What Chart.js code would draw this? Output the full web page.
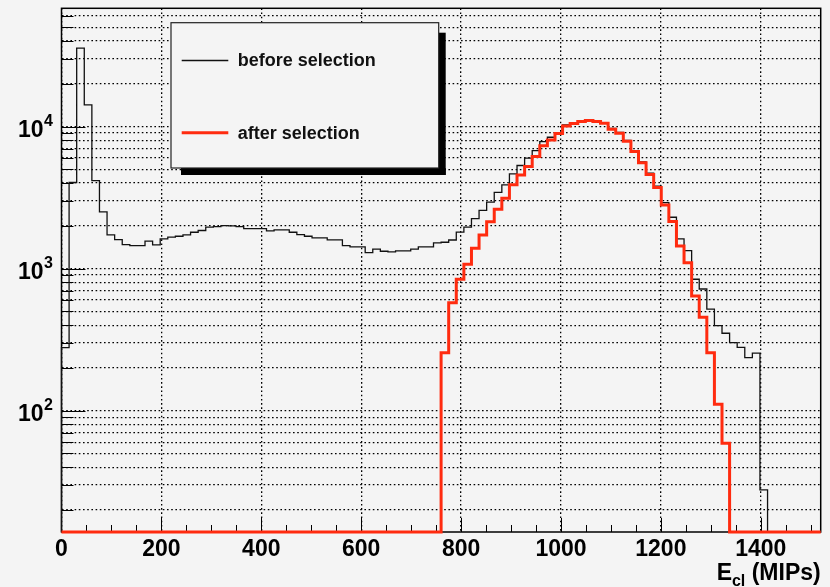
<!DOCTYPE html>
<html>
<head>
<meta charset="utf-8">
<script src="https://cdn.jsdelivr.net/npm/chart.js@4.4.1/dist/chart.umd.min.js"></script>
<style>
  html, body { margin: 0; padding: 0; background: #f4f4f4; }
  #wrap { width: 830px; height: 587px; }
</style>
</head>
<body>
<div id="wrap"><canvas id="hist" width="830" height="587"></canvas></div>
<script>
// 100 bins from 0 to 1520 MIPs
const X_MIN = 0;
const X_MAX = 1520;
const N_BINS = 100;

const Y_MIN = 14;
const Y_MAX = 68000;

// bin contents, 0 = empty bin
const beforeSelection = [
  278, 4040, 35700, 14200, 4160, 2510, 1730, 1600, 1475, 1450,
  1450, 1560, 1468, 1620, 1664, 1690, 1727, 1804, 1855, 1958,
  1976, 2008, 2000, 1975, 1910, 1914, 1914, 1843, 1873, 1873,
  1804, 1735, 1690, 1645, 1645, 1594, 1594, 1452, 1421, 1421,
  1296, 1370, 1325, 1310, 1333, 1333, 1370, 1421, 1421, 1517,
  1533, 1590, 1810, 1960, 2250, 2575, 2940, 3440, 3890, 4640,
  5320, 6000, 6780, 7840, 8410, 9070, 10280, 10670, 10970, 11150,
  10970, 10670, 9700, 9100, 8000, 6780, 5650, 4700, 3800, 2918,
  2300, 1618, 1339, 842, 719, 518, 397, 351, 301, 279,
  236, 254, 27.7, 0, 0, 0, 0, 0, 0, 0
];
const afterSelection = [
  0, 0, 0, 0, 0, 0, 0, 0, 0, 0,
  0, 0, 0, 0, 0, 0, 0, 0, 0, 0,
  0, 0, 0, 0, 0, 0, 0, 0, 0, 0,
  0, 0, 0, 0, 0, 0, 0, 0, 0, 0,
  0, 0, 0, 0, 0, 0, 0, 0, 0, 0,
  256, 576, 842, 1073, 1392, 1727, 2140, 2620, 3130, 3890,
  4570, 5240, 6160, 7340, 8060, 8930, 10100, 10500, 10840, 11020,
  10840, 10560, 9590, 8990, 7880, 6670, 5570, 4600, 3720, 2810,
  2143, 1445, 1102, 643, 455, 256, 111, 58.9, 0, 0,
  0, 0, 0, 0, 0, 0, 0, 0, 0, 0
];

const xMajorTicks = [0, 200, 400, 600, 800, 1000, 1200, 1400];
const xMinorStep = 50;
const yDecades = [100, 1000, 10000];
const yDecadeExp = ['2', '3', '4'];
const seriesLabels = ['before selection', 'after selection'];
const xTitle = ['E', 'cl', ' (MIPs)'];

const FONT = '"Liberation Sans", Arial, Helvetica, sans-serif';

// log grid at 2..9 x 10^n plus the decades
const yGridValues = [];
for (let p = 10; p < Y_MAX; p *= 10) {
  for (let m = 1; m <= 9; m++) {
    const v = m * p;
    if (v > Y_MIN && v < Y_MAX) yGridValues.push(v);
  }
}

// bin contents -> step points, empty bins sit on the bottom of the frame
function histPoints(counts) {
  const w = (X_MAX - X_MIN) / N_BINS;
  const pts = [{ x: X_MIN, y: Y_MIN }];
  counts.forEach((c, i) => pts.push({ x: X_MIN + i * w, y: c > 0 ? c : Y_MIN }));
  pts.push({ x: X_MAX, y: Y_MIN });
  return pts;
}

const rootLook = {
  id: 'rootLook',
  beforeDraw(chart) {
    const ctx = chart.ctx;
    ctx.save();
    ctx.fillStyle = '#f4f4f4';
    ctx.fillRect(0, 0, chart.width, chart.height);
    ctx.restore();
  },
  beforeDatasetsDraw(chart) {
    const { ctx, chartArea: a, scales: { x, y } } = chart;
    ctx.save();
    ctx.strokeStyle = '#000';
    ctx.lineWidth = 1;
    ctx.beginPath();
    for (let v = X_MIN + xMinorStep; v < X_MAX; v += xMinorStep) {
      const px = Math.round(x.getPixelForValue(v)) + 0.5;
      const len = xMajorTicks.includes(v) ? 14 : 7;
      ctx.moveTo(px, a.bottom);
      ctx.lineTo(px, a.bottom - len);
    }
    yGridValues.forEach(v => {
      const py = Math.round(y.getPixelForValue(v)) + 0.5;
      const len = yDecades.includes(v) ? 24 : 12;
      ctx.moveTo(a.left, py);
      ctx.lineTo(a.left + len, py);
    });
    ctx.stroke();
    ctx.lineWidth = 1.5;
    ctx.strokeRect(a.left, a.top, a.right - a.left, a.bottom - a.top);
    ctx.restore();
  },
  afterDraw(chart) {
    const { ctx, chartArea: a, scales: { x, y } } = chart;
    ctx.save();
    ctx.fillStyle = '#000';

    // x tick labels
    ctx.font = 'bold 23px ' + FONT;
    ctx.textAlign = 'center';
    ctx.textBaseline = 'alphabetic';
    xMajorTicks.forEach(v => ctx.fillText(String(v), x.getPixelForValue(v), 556));

    // y tick labels 10^n
    ctx.textAlign = 'right';
    yDecades.forEach((v, i) => {
      const py = y.getPixelForValue(v);
      const right = a.left - 8.5;
      ctx.font = 'bold 16px ' + FONT;
      const supW = ctx.measureText(yDecadeExp[i]).width;
      ctx.fillText(yDecadeExp[i], right, py - 1);
      ctx.font = 'bold 23px ' + FONT;
      ctx.fillText('10', right - supW - 0.5, py + 10);
    });

    // axis title E_cl (MIPs), right aligned to the frame
    let tx = a.right;
    ctx.font = 'bold 23px ' + FONT;
    ctx.fillText(xTitle[2], tx, 580);
    tx -= ctx.measureText(xTitle[2]).width;
    ctx.font = 'bold 16px ' + FONT;
    ctx.fillText(xTitle[1], tx, 586);
    tx -= ctx.measureText(xTitle[1]).width;
    ctx.font = 'bold 23px ' + FONT;
    ctx.fillText(xTitle[0], tx, 580);

    // legend box with shadow
    const bx = 171, by = 22.7, bw = 267.7, bh = 145.3, sh = 7;
    ctx.fillStyle = '#000';
    ctx.fillRect(bx + bw, by + 10, sh, bh - 10 + sh);
    ctx.fillRect(bx + 10, by + bh, bw - 10 + sh, sh);
    ctx.fillStyle = '#f4f4f4';
    ctx.fillRect(bx, by, bw, bh);
    ctx.strokeStyle = '#222';
    ctx.lineWidth = 1.2;
    ctx.strokeRect(bx, by, bw, bh);

    const rows = [60.5, 132.8];
    chart.data.datasets.forEach((ds, i) => {
      ctx.strokeStyle = ds.borderColor;
      ctx.lineWidth = ds.borderWidth;
      ctx.beginPath();
      ctx.moveTo(181.7, rows[i]);
      ctx.lineTo(228.3, rows[i]);
      ctx.stroke();
      ctx.fillStyle = '#111';
      ctx.font = 'bold 18px ' + FONT;
      ctx.textAlign = 'left';
      ctx.textBaseline = 'middle';
      ctx.fillText(ds.label, 237.7, rows[i] + 0.8);
    });
    ctx.restore();
  }
};

new Chart(document.getElementById('hist'), {
  type: 'line',
  data: {
    datasets: [
      {
        label: seriesLabels[0],
        data: histPoints(beforeSelection),
        borderColor: '#111111',
        borderWidth: 1.3,
        stepped: true,
        pointRadius: 0,
        fill: false,
        order: 1,
        clip: false
      },
      {
        label: seriesLabels[1],
        data: histPoints(afterSelection),
        borderColor: '#ff2b0f',
        borderWidth: 3,
        stepped: true,
        pointRadius: 0,
        fill: false,
        order: 0,
        clip: false
      }
    ]
  },
  options: {
    responsive: false,
    animation: false,
    events: [],
    layout: { padding: { left: 61.5, top: 8.3, right: 9.3, bottom: 55 } },
    plugins: { legend: { display: false }, tooltip: { enabled: false } },
    scales: {
      x: {
        type: 'linear',
        min: X_MIN,
        max: X_MAX,
        afterBuildTicks: s => { s.ticks = xMajorTicks.map(v => ({ value: v })); },
        ticks: { display: false },
        grid: { drawTicks: false, color: '#000', lineWidth: 1.3 },
        border: { display: false, dash: [1.6, 2.6] }
      },
      y: {
        type: 'logarithmic',
        min: Y_MIN,
        max: Y_MAX,
        afterBuildTicks: s => { s.ticks = yGridValues.map(v => ({ value: v })); },
        ticks: { display: false },
        grid: { drawTicks: false, color: '#000', lineWidth: 1.3 },
        border: { display: false, dash: [1.6, 2.6] }
      }
    }
  },
  plugins: [rootLook]
});
</script>
</body>
</html>
